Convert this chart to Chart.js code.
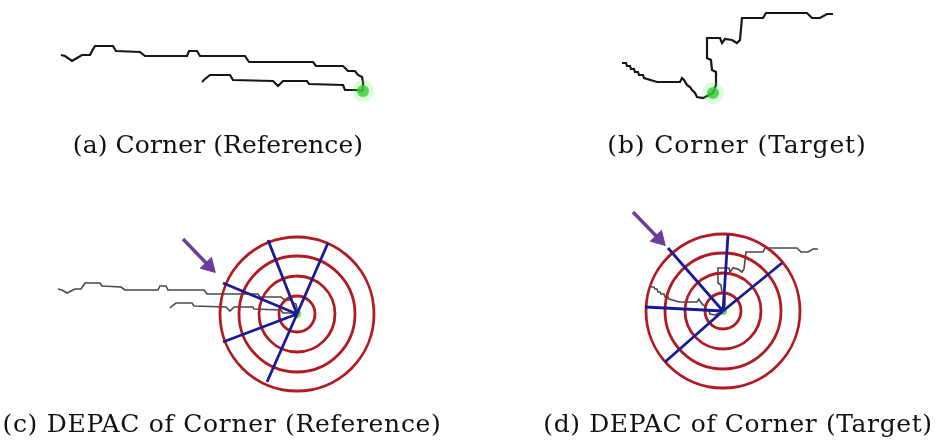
<!DOCTYPE html>
<html>
<head>
<meta charset="utf-8">
<script src="https://cdn.jsdelivr.net/npm/chart.js@4.4.1/dist/chart.umd.min.js"></script>
<style>
  body { margin: 0; background: #fff; }
  #wrap { position: relative; width: 936px; height: 441px; }
  .cap { position: absolute; transform: translateX(-50%); white-space: nowrap;
         font-family: "DejaVu Serif", serif; font-size: 25px; color: #111; line-height: 1; }
</style>
</head>
<body>
<div id="wrap">
  <canvas id="chart1" width="936" height="441"></canvas>
  <div class="cap" style="left:218px; top:132px; letter-spacing:0.1px;">(a) Corner (Reference)</div>
  <div class="cap" style="left:737px; top:132px; letter-spacing:0.9px;">(b) Corner (Target)</div>
  <div class="cap" style="left:222px; top:411px; letter-spacing:0.7px;">(c) DEPAC of Corner (Reference)</div>
  <div class="cap" style="left:738px; top:411px; letter-spacing:0.6px;">(d) DEPAC of Corner (Target)</div>
</div>
<script>
// trajectories, in picture units (x right, y down)
var trajA1 = [[61,55],[65,56],[72,61],[77,58],[82,55],[90,55],[92,51],[95,46],[113,46],[116,51],[140,52],[145,56],[187,56],[189,51],[197,51],[200,56],[245,56],[249,62],[313,62],[316,66],[343,66],[348,71],[355,71],[358,75],[362,77],[363,82],[363,90]];
var trajA2 = [[202,82],[205,79],[210,75],[230,75],[233,80],[273,81],[278,86],[283,81],[307,81],[309,84],[343,85],[345,90],[355,90],[363,91]];
var trajB = [[622,63],[626,63],[627,66],[630,66],[631,69],[634,69],[635,72],[638,72],[639,75],[643,75],[644,78],[657,82],[680,82],[682,78],[684,80],[687,85],[690,87],[692,90],[695,93],[697,97],[703,98],[713,93],[716,85],[716,72],[712,70],[711,60],[707,58],[707,38],[720,38],[722,43],[725,39],[732,40],[737,43],[740,40],[742,18],[763,18],[766,13],[807,13],[812,18],[820,18],[827,14],[833,14]];
var trajC1 = [[58,289],[62,290],[67,293],[71,291],[75,289],[81,289],[83,286],[85,283],[100,283],[102,286],[121,287],[125,290],[158,290],[160,286],[166,286],[168,290],[204,290],[207,294],[258,294],[260,297],[281,297],[285,300],[291,300],[293,303],[296,304],[297,308],[297,313]];
var trajC2 = [[170,308],[172,306],[176,303],[192,303],[194,306],[226,307],[230,311],[234,307],[253,307],[254,309],[281,310],[283,313],[291,313],[297,314]];
var trajD = [[651,287],[654,287],[655,289],[657,289],[658,292],[660,292],[661,294],[664,294],[665,297],[668,297],[669,299],[679,302],[697,302],[699,299],[700,301],[703,305],[705,306],[706,309],[709,311],[710,314],[715,315],[723,311],[725,305],[725,294],[722,293],[721,285],[718,283],[718,268],[729,268],[730,272],[733,268],[738,269],[742,272],[744,269],[746,252],[763,252],[765,248],[797,248],[801,252],[808,252],[813,249],[818,249]];

// keypoint (green) and DEPAC centres
var greenA = [363, 91];
var greenB = [713, 93];
var centreC = [297, 314];
var centreD = [723, 311];
var ringRadii = [77, 58, 38, 18];

// spoke ends of the DEPAC descriptors
var spokesC = [[268,240],[328,243],[223,283],[223,342],[267,382]];
var spokesD = [[728,235],[782,263],[668,248],[645,307],[665,362]];

// arrows: tail, head
var arrowC = [[183,239],[209,266]];
var arrowD = [[633,212],[659,239]];

function pts(a) { return a.map(function(p) { return {x: p[0], y: p[1]}; }); }

var datasets = [];

function line(data, color, width, order) {
  datasets.push({ data: pts(data), showLine: true, borderColor: color, borderWidth: width,
    pointRadius: 0, fill: false, tension: 0, order: order, borderJoinStyle: 'miter' });
}

line(trajA1, '#161616', 2.2, 5);
line(trajA2, '#161616', 2.2, 5);
line(trajB, '#161616', 2.2, 5);
line(trajC1, '#4a4a4a', 1.6, 6);
line(trajC2, '#4a4a4a', 1.6, 6);
line(trajD, '#4a4a4a', 1.6, 6);

// green keypoints with a soft glow
[greenA, greenB].forEach(function(g) {
  datasets.push({ data: pts([g]), pointRadius: 11, pointBackgroundColor: 'rgba(110,235,110,0.22)', pointBorderWidth: 0, order: 4 });
  datasets.push({ data: pts([g]), pointRadius: 6, pointBackgroundColor: 'rgba(50,205,50,0.8)', pointBorderWidth: 0, order: 3 });
});
[centreC, centreD].forEach(function(g) {
  datasets.push({ data: pts([g]), pointRadius: 4, pointBackgroundColor: 'rgba(60,200,60,0.8)', pointBorderWidth: 0, order: 4 });
});

// concentric rings
[centreC, centreD].forEach(function(c) {
  ringRadii.forEach(function(r) {
    datasets.push({ data: pts([c]), pointRadius: r, pointBackgroundColor: 'rgba(0,0,0,0)',
      pointBorderColor: '#b01a22', pointBorderWidth: 2.8, order: 3 });
  });
});

// blue spokes
spokesC.forEach(function(e) { line([centreC, e], '#1a1a96', 2.8, 2); });
spokesD.forEach(function(e) { line([centreD, e], '#1a1a96', 2.8, 2); });

// purple arrows
[arrowC, arrowD].forEach(function(a) {
  datasets.push({ data: pts(a), showLine: true, borderColor: '#6a3d9a', borderWidth: 3.4,
    pointRadius: [0, 9], pointStyle: 'triangle', rotation: 136,
    pointBackgroundColor: '#6a3d9a', pointBorderColor: '#6a3d9a', pointBorderWidth: 1, order: 1 });
});

var ctx = document.getElementById('chart1').getContext('2d');
var myChart = new Chart(ctx, {
  type: 'scatter',
  data: { datasets: datasets },
  options: {
    responsive: false,
    animation: false,
    devicePixelRatio: 1,
    layout: { padding: 0, autoPadding: false },
    plugins: { legend: { display: false }, tooltip: { enabled: false } },
    elements: { point: { hoverRadius: 0 } },
    scales: {
      x: { type: 'linear', min: 0, max: 936, display: false },
      y: { type: 'linear', min: 0, max: 441, reverse: true, display: false }
    }
  }
});
</script>
</body>
</html>
